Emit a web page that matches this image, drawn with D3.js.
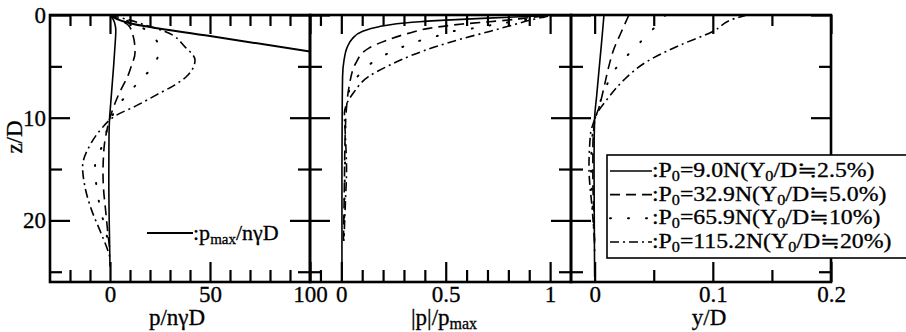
<!DOCTYPE html>
<html>
<head>
<meta charset="utf-8">
<script src="https://cdn.jsdelivr.net/npm/d3@7"></script>
<style>
body { margin: 0; background: #fff; }
text { font-family: "Liberation Serif", "DejaVu Serif", serif; fill: #000; stroke: #000; stroke-width: 0.3px; }
</style>
</head>
<body>
<div id="chart"></div>
<script>
// Data: [z/D, value]
// Panel 1 : p/nγD
let p1Solid = [[0,0],[0.5,1.8],[1,2.6],[1.5,2.9],[3,2.5],[5,1.8],[7,1.0],[9,0.2],[10,-0.2],[12,-0.5],[16,-0.6],[20,-0.4],[24.5,0]];
let p1Dashed = [[0,0],[0.5,5],[1,9.2],[2,11.5],[3,12.4],[3.7,12.5],[4.9,10.8],[5.9,9.0],[6.8,6.7],[7.8,4.2],[8.6,2.5],[10,0],[11,-1.3],[13,-3],[15.4,-3.5],[17,-3.2],[19,-2.2],[21,-1.2],[23,0]];
let p1Dotted = [[0,0],[1,14],[2,21],[3.1,24.5],[4,24],[4.9,21.7],[6.4,15],[7.6,9.2],[9,3.5],[10.3,0],[11.5,-2],[12.5,-3.5],[14.8,-7.5],[16.75,-6.7],[18.7,-5],[20.7,-2.5],[23,0]];
let p1DashDot = [[0,0],[0.5,10],[1,18],[1.6,27.5],[3.1,37.5],[4.4,42.5],[5.85,39],[6.8,32.5],[7.8,23],[8.9,12.5],[9.75,3.3],[10.2,0],[11,-4],[12.5,-9.5],[14.8,-13.7],[16.75,-12.5],[19,-9.2],[21,-5],[22.6,-1.7],[23.6,0]];
let pMax = [[0,0],[0.4,3.5],[0.81,10],[2.05,50],[3.55,100]];

// Panel 2 : |p|/pmax
let p2Solid = [[0.08,0.97],[0.3,0.7],[0.5,0.5],[0.71,0.34],[1.14,0.18],[1.6,0.1],[2.3,0.053],[3.1,0.029],[4.4,0.013],[6,0.006],[10,0.004],[15,0.003],[20,0.003],[26,0.003]];
let p2Dashed = [[0.1,0.97],[0.3,0.88],[0.49,0.8],[0.65,0.71],[0.88,0.58],[1.3,0.42],[1.79,0.32],[2.44,0.22],[3.25,0.13],[4.7,0.069],[7,0.037],[9,0.025],[12,0.018],[16,0.015],[20,0.012],[22,0.01]];
let p2Dotted = [[0.2,0.97],[0.33,0.93],[0.65,0.82],[0.98,0.72],[1.3,0.63],[1.6,0.53],[2.1,0.45],[2.6,0.36],[3.4,0.26],[4.2,0.18],[5.5,0.1],[7,0.045],[8.1,0.029],[10,0.02],[14,0.018],[18,0.015],[22,0.012]];
let p2DashDot = [[0.12,0.99],[0.33,0.94],[0.98,0.82],[1.6,0.71],[2.3,0.58],[3.1,0.45],[3.9,0.34],[4.9,0.23],[6.0,0.13],[7.5,0.061],[8.9,0.021],[9.5,0.015],[12,0.02],[15,0.025],[18,0.02],[22,0.012]];

// Panel 3 : y/D
let p3Solid = [[0,0.0079],[2,0.0064],[4,0.0048],[6,0.0032],[8,0.0016],[10,0],[14,-0.0005],[20,-0.0003],[25.5,0]];
let p3Dashed = [[0,0.029],[1.8,0.022],[3.4,0.016],[5,0.012],[7,0.008],[8.9,0.004],[10.3,0],[13,-0.0015],[16,-0.0015],[20,-0.0005],[23,0]];
let p3Dotted = [[0,0.06],[1.3,0.05],[2.6,0.039],[3.9,0.028],[5.5,0.016],[7.2,0.009],[8.7,0.004],[10.2,0],[12,-0.002],[15,-0.003],[18,-0.002],[22,0]];
let p3DashDot = [[0,0.129],[0.33,0.119],[1.6,0.1],[2.9,0.073],[4.55,0.044],[6.3,0.025],[8,0.012],[9.6,0.002],[10.5,-0.001],[11.5,-0.0034],[14.8,-0.0048],[19,-0.002],[22,0]];

// Ticks
let yMajor = [0, 10, 20];
let yMinor = [5, 15, 25];
let x1Major = [0, 50, 100];
let x1Minor = [-20, -10, 10, 20, 30, 40, 60, 70, 80, 90];
let x2Major = [0, 0.5, 1];
let x2Minor = [-0.1, 0.1, 0.2, 0.3, 0.4, 0.6, 0.7, 0.8, 0.9];
let x3Major = [0, 0.1, 0.2];
let x3Minor = [0.05, 0.15];

// Legend
let legendP0 = ["9.0", "32.9", "65.9", "115.2"];
let legendRatio = ["2.5%", "5.0%", "10%", "20%"];

let width = 906;
let height = 332;
let plotTop = 15;
let plotBottom = 282;
let serif = "'Liberation Serif', 'DejaVu Serif', serif";

let dashes = ["none", "10,6", "1,17", "9,4,2,4"];

let svg = d3.select("#chart")
    .append("svg")
    .attr("width", width)
    .attr("height", height)
    .style("background", "#fff");

let y = d3.scaleLinear().domain([0, 26]).range([plotTop, plotBottom]);

let panels = [
    { x: d3.scaleLinear().domain([-30, 100]).range([50, 310]), major: x1Major, minor: x1Minor,
      series: [p1Solid, p1Dashed, p1Dotted, p1DashDot] },
    { x: d3.scaleLinear().domain([-0.15, 1.1]).range([310, 571]), major: x2Major, minor: x2Minor,
      series: [p2Solid, p2Dashed, p2Dotted, p2DashDot] },
    { x: d3.scaleLinear().domain([-0.02, 0.2]).range([571, 831]), major: x3Major, minor: x3Minor,
      series: [p3Solid, p3Dashed, p3Dotted, p3DashDot] }
];

function styleAxis(g, sw) {
    g.select(".domain").remove();
    g.selectAll("line").attr("stroke", "#000").attr("stroke-width", sw);
    g.selectAll("text")
        .attr("font-family", serif)
        .attr("font-size", 23)
        .attr("fill", "#000");
}

panels.forEach(function(p, i) {
    let x = p.x;
    let x0 = x.range()[0];
    let x1 = x.range()[1];

    // clip
    svg.append("clipPath").attr("id", "clip" + i)
        .append("rect")
        .attr("x", x0).attr("y", plotTop)
        .attr("width", x1 - x0).attr("height", plotBottom - plotTop);

    // bottom ticks
    svg.append("g")
        .attr("transform", "translate(0," + plotBottom + ")")
        .call(d3.axisBottom(x).tickValues(p.minor).tickSize(-12).tickFormat(""))
        .call(styleAxis, 2.2);
    svg.append("g")
        .attr("transform", "translate(0," + plotBottom + ")")
        .call(d3.axisBottom(x).tickValues(p.major).tickSize(-20).tickPadding(4)
            .tickFormat(function(d) { return String(d); }))
        .call(styleAxis, 2.2);
    // top ticks
    svg.append("g")
        .attr("transform", "translate(0," + plotTop + ")")
        .call(d3.axisTop(x).tickValues(p.minor).tickSize(-11).tickFormat(""))
        .call(styleAxis, 2.2);
    svg.append("g")
        .attr("transform", "translate(0," + plotTop + ")")
        .call(d3.axisTop(x).tickValues(p.major).tickSize(-19).tickFormat(""))
        .call(styleAxis, 2.2);

    // left / right ticks (inward)
    svg.append("g")
        .attr("transform", "translate(" + x0 + ",0)")
        .call(d3.axisLeft(y).tickValues(yMinor).tickSize(-12).tickFormat(""))
        .call(styleAxis, 2.2);
    svg.append("g")
        .attr("transform", "translate(" + x0 + ",0)")
        .call(d3.axisLeft(y).tickValues(yMajor).tickSize(-20).tickFormat(""))
        .call(styleAxis, 2.2);
    svg.append("g")
        .attr("transform", "translate(" + x1 + ",0)")
        .call(d3.axisRight(y).tickValues(yMinor).tickSize(-12).tickFormat(""))
        .call(styleAxis, 2.2);
    svg.append("g")
        .attr("transform", "translate(" + x1 + ",0)")
        .call(d3.axisRight(y).tickValues(yMajor).tickSize(-20).tickFormat(""))
        .call(styleAxis, 2.2);

    // frame
    svg.append("rect")
        .attr("x", x0).attr("y", plotTop)
        .attr("width", x1 - x0).attr("height", plotBottom - plotTop)
        .attr("fill", "none")
        .attr("stroke", "#000")
        .attr("stroke-width", 2.6);

    // curves
    let line = d3.line()
        .x(function(d) { return x(d[1]); })
        .y(function(d) { return y(d[0]); })
        .curve(d3.curveMonotoneY);

    let g = svg.append("g").attr("clip-path", "url(#clip" + i + ")");
    p.series.forEach(function(s, k) {
        g.append("path")
            .datum(s)
            .attr("d", line)
            .attr("fill", "none")
            .attr("stroke", "#000")
            .attr("stroke-width", k === 2 ? 2 : 1.6)
            .attr("stroke-linecap", k === 2 ? "round" : "butt")
            .attr("stroke-dasharray", dashes[k]);
    });
    if (i === 0) {
        g.append("path")
            .datum(pMax)
            .attr("d", line)
            .attr("fill", "none")
            .attr("stroke", "#000")
            .attr("stroke-width", 2);
    }
});

// y tick labels
svg.append("g")
    .attr("transform", "translate(50,0)")
    .call(d3.axisLeft(y).tickValues(yMajor).tickSize(0).tickPadding(4))
    .call(styleAxis, 0);

// axis titles
svg.append("text")
    .attr("transform", "translate(22,137)rotate(-90)")
    .attr("text-anchor", "middle")
    .attr("font-size", 23)
    .text("z/D");

svg.append("text")
    .attr("x", 177).attr("y", 325)
    .attr("text-anchor", "middle")
    .attr("font-size", 23)
    .text("p/nγD");

let t2 = svg.append("text")
    .attr("x", 444).attr("y", 325)
    .attr("text-anchor", "middle")
    .attr("font-size", 23);
t2.append("tspan").text("|p|/p");
t2.append("tspan").attr("font-size", 16).attr("dy", 4).text("max");

svg.append("text")
    .attr("x", 709).attr("y", 325)
    .attr("text-anchor", "middle")
    .attr("font-size", 23)
    .text("y/D");

// pmax legend in panel 1
svg.append("line")
    .attr("x1", 147).attr("x2", 193)
    .attr("y1", 233).attr("y2", 233)
    .attr("stroke", "#000").attr("stroke-width", 2);
let tm = svg.append("text")
    .attr("x", 193).attr("y", 240)
    .attr("font-size", 22);
tm.append("tspan").text(":p");
tm.append("tspan").attr("font-size", 15).attr("dy", 4).text("max");
tm.append("tspan").attr("dy", -4).text("/nγD");

// legend
let legend = svg.append("g");
legend.append("rect")
    .attr("x", 607).attr("y", 155)
    .attr("width", 320).attr("height", 103)
    .attr("fill", "#fff")
    .attr("stroke", "#000")
    .attr("stroke-width", 1.6);

let rowY = d3.scalePoint().domain(d3.range(legendP0.length)).range([170, 241]);

legendP0.forEach(function(v, k) {
    let yy = rowY(k);
    legend.append("line")
        .attr("x1", 610).attr("x2", 652)
        .attr("y1", yy + 1).attr("y2", yy + 1)
        .attr("stroke", "#000")
        .attr("stroke-width", k === 2 ? 2 : 1.6)
        .attr("stroke-linecap", k === 2 ? "round" : "butt")
        .attr("stroke-dasharray", dashes[k]);
    // slightly widened type, as in the scan
    let t = legend.append("text")
        .attr("transform", "translate(652," + (yy + 7) + ")scale(1.16,1)")
        .attr("font-size", 20.5);
    t.append("tspan").text(":P");
    t.append("tspan").attr("font-size", 14).attr("dy", 4).text("0");
    t.append("tspan").attr("dy", -4).text("=" + v + "N(Y");
    t.append("tspan").attr("font-size", 14).attr("dy", 4).text("0");
    t.append("tspan").attr("dy", -4).text("/D≒" + legendRatio[k] + ")");
});
</script>
</body>
</html>
